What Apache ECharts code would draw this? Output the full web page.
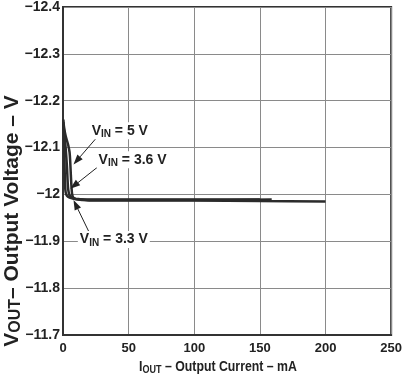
<!DOCTYPE html>
<html>
<head>
<meta charset="utf-8">
<script src="https://cdn.jsdelivr.net/npm/echarts@6/dist/echarts.min.js"></script>
<style>
  html, body { margin: 0; padding: 0; background: #fff; }
  #chart { width: 405px; height: 378px; }
</style>
</head>
<body>
<div id="chart"></div>
<script>
// axis ranges
var xMin = 0, xMax = 250, xStep = 50;
var yMin = -12.4, yMax = -11.7, yStep = 0.1;

// VIN = 5 V
var vin5X = [0.3, 1, 2, 3, 4, 5, 5.5, 6, 6.5, 7, 8, 10, 15, 20, 50, 100, 150, 200];
var vin5Y = [-12.155, -12.14, -12.125, -12.115, -12.105, -12.09, -12.07, -12.04, -12.015, -12.0, -11.993, -11.99, -11.988, -11.987, -11.987, -11.987, -11.986, -11.985];
// VIN = 3.6 V
var vin36X = [0.3, 1, 2, 3, 3.5, 4, 5, 7, 10, 15, 20, 50, 100, 159];
var vin36Y = [-12.15, -12.13, -12.1, -12.06, -12.03, -12.01, -11.998, -11.993, -11.99, -11.989, -11.988, -11.988, -11.988, -11.989];
// VIN = 3.3 V
var vin33X = [0.3, 0.8, 1.2, 1.6, 2, 3, 5, 8, 12, 20, 50, 100, 150];
var vin33Y = [-12.16, -12.12, -12.06, -12.02, -12.005, -11.997, -11.993, -11.991, -11.99, -11.989, -11.989, -11.989, -11.989];

// annotation anchors (data space): text left/middle, arrow start, arrow tip
var noteLabels = ['V{s|IN} = 5 V', 'V{s|IN} = 3.6 V', 'V{s|IN} = 3.3 V'];
var noteText = [[20.3, -12.136], [25.6, -12.074], [11.3, -11.904]];
var noteFrom = [[25.6, -12.121], [27.1, -12.06], [19.6, -11.921]];
var noteTo = [[8.0, -12.064], [5.5, -12.012], [8.0, -11.988]];

function pairs(xs, ys) {
  return xs.map(function (x, i) { return [x, ys[i]]; });
}

var lineColor = '#2b2b2b';
function curve(name, xs, ys) {
  return {
    name: name,
    type: 'line',
    data: pairs(xs, ys),
    showSymbol: false,
    smooth: 0.3,
    lineStyle: { color: lineColor, width: 2.5 },
    z: 3
  };
}

var chart = echarts.init(document.getElementById('chart'));
var fontFamily = '"Liberation Sans", Arial, sans-serif';

chart.setOption({
  backgroundColor: '#fff',
  animation: false,
  grid: {
    left: 63, right: 10, top: 6, bottom: 43,
    show: true, borderColor: '#333', borderWidth: 2
  },
  xAxis: {
    type: 'value',
    min: xMin, max: xMax, interval: xStep,
    axisLine: { show: true, lineStyle: { color: '#333', width: 2 } },
    axisTick: { show: false },
    axisLabel: { color: '#222', fontSize: 13, fontWeight: 'bold', fontFamily: fontFamily, margin: 7 },
    splitLine: { show: true, lineStyle: { color: '#8a8a8a', width: 1 } }
  },
  yAxis: {
    type: 'value',
    inverse: true,
    min: yMin, max: yMax, interval: yStep,
    axisLine: { show: true, lineStyle: { color: '#333', width: 2 } },
    axisTick: { show: false },
    axisLabel: {
      color: '#222', fontSize: 14, fontWeight: 'bold', fontFamily: fontFamily, margin: 3,
      formatter: function (v) { return String(Math.round(v * 10) / 10).replace('-', '\u2212'); }
    },
    splitLine: { show: true, lineStyle: { color: '#8a8a8a', width: 1 } }
  },
  series: [
    curve('VIN = 5 V', vin5X, vin5Y),
    curve('VIN = 3.6 V', vin36X, vin36Y),
    curve('VIN = 3.3 V', vin33X, vin33Y)
  ]
});

// annotations and axis titles
function sub(size, pad) {
  return { s: { fontSize: size, fontWeight: 'bold', fontFamily: fontFamily, fill: '#222', padding: [pad, 0, 0, 0] } };
}
var graphics = [];
noteLabels.forEach(function (txt, i) {
  var p = chart.convertToPixel({ gridIndex: 0 }, noteText[i]);
  var a = chart.convertToPixel({ gridIndex: 0 }, noteFrom[i]);
  var b = chart.convertToPixel({ gridIndex: 0 }, noteTo[i]);
  var dx = b[0] - a[0], dy = b[1] - a[1], len = Math.sqrt(dx * dx + dy * dy);
  var ux = dx / len, uy = dy / len, hl = 10, hw = 3.5;
  var base = [b[0] - ux * hl, b[1] - uy * hl];
  graphics.push({
    type: 'line', z: 10,
    shape: { x1: a[0], y1: a[1], x2: base[0], y2: base[1] },
    style: { stroke: '#222', lineWidth: 1 }
  });
  graphics.push({
    type: 'polygon', z: 10,
    shape: { points: [b, [base[0] - uy * hw, base[1] + ux * hw], [base[0] + uy * hw, base[1] - ux * hw]] },
    style: { fill: '#222' }
  });
  graphics.push({
    type: 'text', z: 11, x: p[0], y: p[1],
    style: {
      text: txt, fill: '#222', fontSize: 14, fontWeight: 'bold', fontFamily: fontFamily,
      align: 'left', verticalAlign: 'middle', rich: sub(10, 7),
      backgroundColor: '#fff', padding: [0, 2, 0, 2]
    }
  });
});

graphics.push({
  type: 'text', x: 218, y: 367, scaleX: 0.82,
  style: {
    text: 'I{s|OUT} \u2013 Output Current \u2013 mA', fill: '#222', fontSize: 15, fontFamily: fontFamily,
    fontWeight: 'bold', align: 'center', verticalAlign: 'middle', rich: sub(11, 6)
  }
});
graphics.push({
  type: 'text', x: 12, y: 221, rotation: Math.PI / 2,
  style: {
    text: 'V{s|OUT}\u2013 Output Voltage \u2013 V', fill: '#222', fontSize: 21, fontFamily: fontFamily,
    fontWeight: 'bold', align: 'center', verticalAlign: 'middle', rich: sub(16, 8)
  }
});

chart.setOption({ graphic: graphics });
</script>
</body>
</html>
